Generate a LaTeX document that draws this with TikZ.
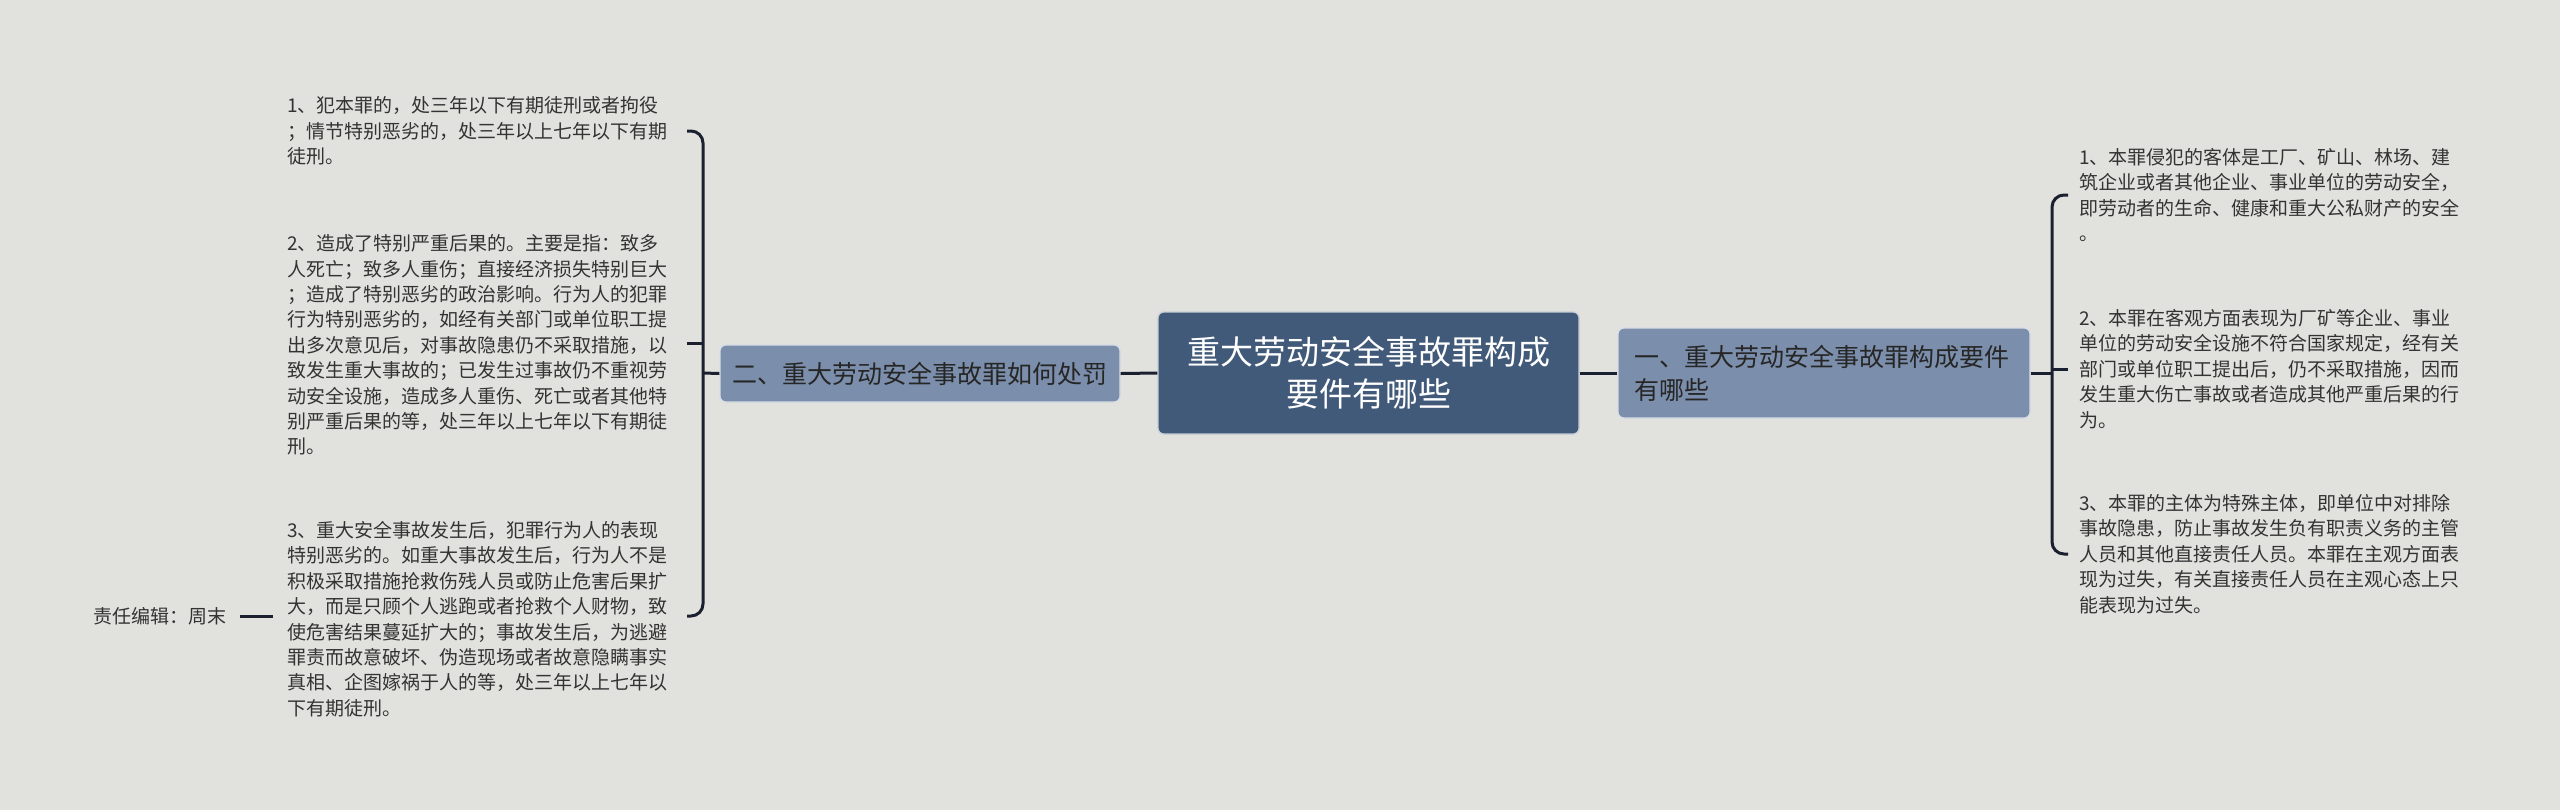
\documentclass[tikz,border=0pt]{standalone}
\usepackage{fontspec}
\setmainfont{Noto Sans CJK SC}
\usetikzlibrary{calc}
\definecolor{bgc}{HTML}{E1E2DD}
\definecolor{mainc}{HTML}{425A79}
\definecolor{subc}{HTML}{7B8EAB}
\definecolor{linec}{HTML}{1B2030}
\definecolor{txtc}{HTML}{333333}
\tikzset{
  conn/.style={draw=linec, line width=1.5pt},
  mainbox/.style={fill=mainc, draw=white!70!mainc, line width=0.6pt, rounded corners=3pt, text=white,
    font=\fontsize{16.5pt}{21pt}\selectfont, align=center, text width=200pt, minimum width=210.5pt, minimum height=61pt, inner sep=0pt},
  subbox/.style={fill=subc, draw=white!70!subc, line width=0.6pt, rounded corners=3pt, text=black!85,
    font=\fontsize{12.5pt}{16.5pt}\selectfont, align=left, inner sep=0pt},
  leaf/.style={text=txtc, font=\fontsize{9.5pt}{12.7pt}\selectfont, align=left, anchor=west, inner sep=0pt}
}
\begin{document}
\begin{tikzpicture}[x=0.5pt,y=-0.5pt]
\fill[bgc] (0,0) rectangle (2560,810);
\useasboundingbox (0,0) rectangle (2560,810);

\node[mainbox] (c) at (1368.5,373) {重大劳动安全事故罪构成\\要件有哪些};
\node[subbox, text width=190pt, minimum width=206pt, minimum height=45pt, inner xsep=8pt] (r) at (1824,373) {一、重大劳动安全事故罪构成要件\\有哪些};
\node[subbox, text width=188pt, minimum width=200pt, minimum height=28.5pt, inner xsep=6pt] (l) at (920,373.5) {二、重大劳动安全事故罪如何处罚};

\draw[conn] (c.west) -- (l.east);
\draw[conn] (c.east) -- (r.west);

% right leaves
\node[leaf] (r1) at (2079,195) {1、本罪侵犯的客体是工厂、矿山、林场、建\\筑企业或者其他企业、事业单位的劳动安全，\\即劳动者的生命、健康和重大公私财产的安全\\。};
\node[leaf] (r2) at (2079,369) {2、本罪在客观方面表现为厂矿等企业、事业\\单位的劳动安全设施不符合国家规定，经有关\\部门或单位职工提出后，仍不采取措施，因而\\发生重大伤亡事故或者造成其他严重后果的行\\为。};
\node[leaf] (r3) at (2079,554) {3、本罪的主体为特殊主体，即单位中对排除\\事故隐患，防止事故发生负有职责义务的主管\\人员和其他直接责任人员。本罪在主观方面表\\现为过失，有关直接责任人员在主观心态上只\\能表现为过失。};

\coordinate (rb) at (2052,373);
\draw[conn] (r.east) -- (rb);
\draw[conn, rounded corners=6pt] ($(r1.west)+(-11,0)$) -| (rb) |- ($(r3.west)+(-11,0)$);
\draw[conn] (rb |- r2.west) -- ($(r2.west)+(-11,0)$);

% left leaves
\node[leaf] (l1) at (287,131) {1、犯本罪的，处三年以下有期徒刑或者拘役\\；情节特别恶劣的，处三年以上七年以下有期\\徒刑。};
\node[leaf] (l2) at (287,345) {2、造成了特别严重后果的。主要是指：致多\\人死亡；致多人重伤；直接经济损失特别巨大\\；造成了特别恶劣的政治影响。行为人的犯罪\\行为特别恶劣的，如经有关部门或单位职工提\\出多次意见后，对事故隐患仍不采取措施，以\\致发生重大事故的；已发生过事故仍不重视劳\\动安全设施，造成多人重伤、死亡或者其他特\\别严重后果的等，处三年以上七年以下有期徒\\刑。};
\node[leaf] (l3) at (287,619) {3、重大安全事故发生后，犯罪行为人的表现\\特别恶劣的。如重大事故发生后，行为人不是\\积极采取措施抢救伤残人员或防止危害后果扩\\大，而是只顾个人逃跑或者抢救个人财物，致\\使危害结果蔓延扩大的；事故发生后，为逃避\\罪责而故意破坏、伪造现场或者故意隐瞒事实\\真相、企图嫁祸于人的等，处三年以上七年以\\下有期徒刑。};

\coordinate (lb) at (703,373);
\coordinate (lt) at (687,131);
\coordinate (lm) at (687,343);
\coordinate (lbot) at (687,616);
\draw[conn] (l.west) -- (lb);
\draw[conn, rounded corners=6pt] (lt) -| (lb) |- (lbot);
\draw[conn] (lb |- lm) -- (lm);

% editor
\node[leaf] (ed) at (93,616) {责任编辑：周末};
\coordinate (es) at (240,616);
\coordinate (ee) at (273,616);
\draw[conn] (es) -- (ee);
\end{tikzpicture}
\end{document}
